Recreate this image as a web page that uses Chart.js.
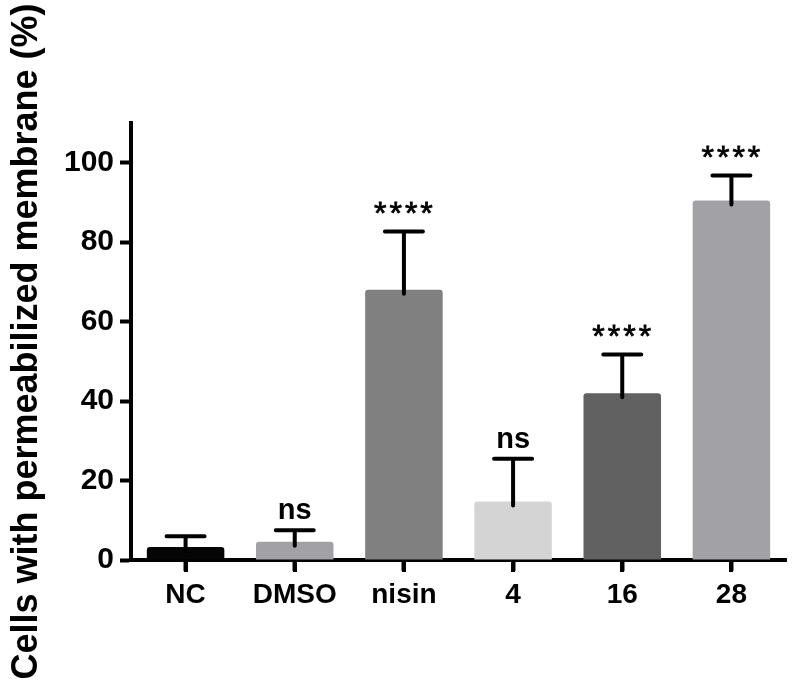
<!DOCTYPE html>
<html>
<head>
<meta charset="utf-8">
<script src="https://cdn.jsdelivr.net/npm/chart.js@4"></script>
<style>
  html, body { margin: 0; padding: 0; background: #fff; }
  #wrap { width: 795px; height: 685px; }
</style>
</head>
<body>
<div id="wrap"><canvas id="myChart"></canvas></div>
<script>
// datos
const grupos = ["NC", "DMSO", "nisin", "4", "16", "28"];
const medias = [3.3, 4.6, 68, 14.7, 42, 90.5];
const errores = [2.7, 2.9, 14.7, 10.8, 9.7, 6.3];
const signif = ["", "ns", "****", "ns", "****", "****"];
const colores = ["#050505", "#a2a2a6", "#808080", "#d4d4d4", "#616161", "#a2a2a6"];
const ticksY = [0, 20, 40, 60, 80, 100];

const fuente = "'Liberation Sans', Arial, Helvetica, sans-serif";

// barras de error (solo hacia arriba), marcas del eje x y significancia
const errorBars = {
    id: "errorBars",
    afterDraw(chart) {
        const ctx = chart.ctx;
        const y = chart.scales.y;
        const base = chart.chartArea.bottom;
        const meta = chart.getDatasetMeta(0);
        ctx.save();

        //* marcas en el centro de cada categoria
        ctx.fillStyle = "#000";
        meta.data.forEach((bar) => {
            ctx.fillRect(Math.round(bar.x) - 2, base, 4, 12);
        });

        ctx.strokeStyle = "#000";
        ctx.lineWidth = 4;
        ctx.lineCap = "round";
        meta.data.forEach((bar, i) => {
            const cx = bar.x;
            const yTop = y.getPixelForValue(medias[i]);
            const yCap = y.getPixelForValue(medias[i] + errores[i]);
            ctx.beginPath();
            ctx.moveTo(cx, yTop + 4);
            ctx.lineTo(cx, yCap);
            ctx.moveTo(cx - 19, yCap);
            ctx.lineTo(cx + 19, yCap);
            ctx.stroke();

            const txt = signif[i];
            if (txt) {
                ctx.fillStyle = "#000";
                ctx.textAlign = "center";
                ctx.textBaseline = "middle";
                if (txt == "ns") {
                    ctx.font = "bold 29px " + fuente;
                    ctx.fillText(txt, cx, yCap - 19);
                } else {
                    ctx.font = "32px " + fuente;
                    ctx.letterSpacing = "3px";
                    ctx.lineWidth = 0.8;
                    ctx.fillText(txt, cx + 1, yCap - 16);
                    ctx.strokeText(txt, cx + 1, yCap - 16);
                    ctx.lineWidth = 4;
                    ctx.letterSpacing = "0px";
                }
            }
        });
        ctx.restore();
    }
};

const chartDOM = document.getElementById("myChart");
new Chart(chartDOM, {
    type: "bar",
    data: {
        labels: grupos,
        datasets: [{
            data: medias,
            backgroundColor: colores,
            borderRadius: 3,
            barPercentage: 0.71,
            categoryPercentage: 1
        }]
    },
    options: {
        responsive: true,
        maintainAspectRatio: false,
        animation: false,
        devicePixelRatio: 1,
        layout: { padding: { top: 123, right: 9, left: 0, bottom: 0 } },
        plugins: {
            legend: { display: false },
            tooltip: { enabled: false }
        },
        scales: {
            x: {
                grid: { display: true, offset: false, drawOnChartArea: false, drawTicks: true, tickLength: 11, tickWidth: 4, tickColor: "#000" },
                border: { display: true, width: 4, color: "#000" },
                ticks: { color: "#000", padding: 7, font: { family: fuente, size: 28, weight: "bold" } },
                afterFit(scale) { scale.height = 125; }
            },
            y: {
                min: 0,
                max: 110,
                grid: { display: true, drawOnChartArea: false, drawTicks: true, tickLength: 11, tickWidth: 4, tickColor: "#000" },
                border: { display: true, width: 4, color: "#000" },
                ticks: { color: "#000", padding: 6, stepSize: 20, font: { family: fuente, size: 30, weight: "bold" } },
                afterBuildTicks(scale) {
                    scale.ticks = ticksY.map(v => ({ value: v }));
                },
                title: {
                    display: true,
                    text: "Cells with permeabilized membrane (%)",
                    color: "#000",
                    padding: { top: 5, bottom: 0 },
                    font: { family: fuente, size: 36, weight: "bold" }
                },
                afterFit(scale) { scale.width = 131; }
            }
        }
    },
    plugins: [errorBars]
});
</script>
</body>
</html>
